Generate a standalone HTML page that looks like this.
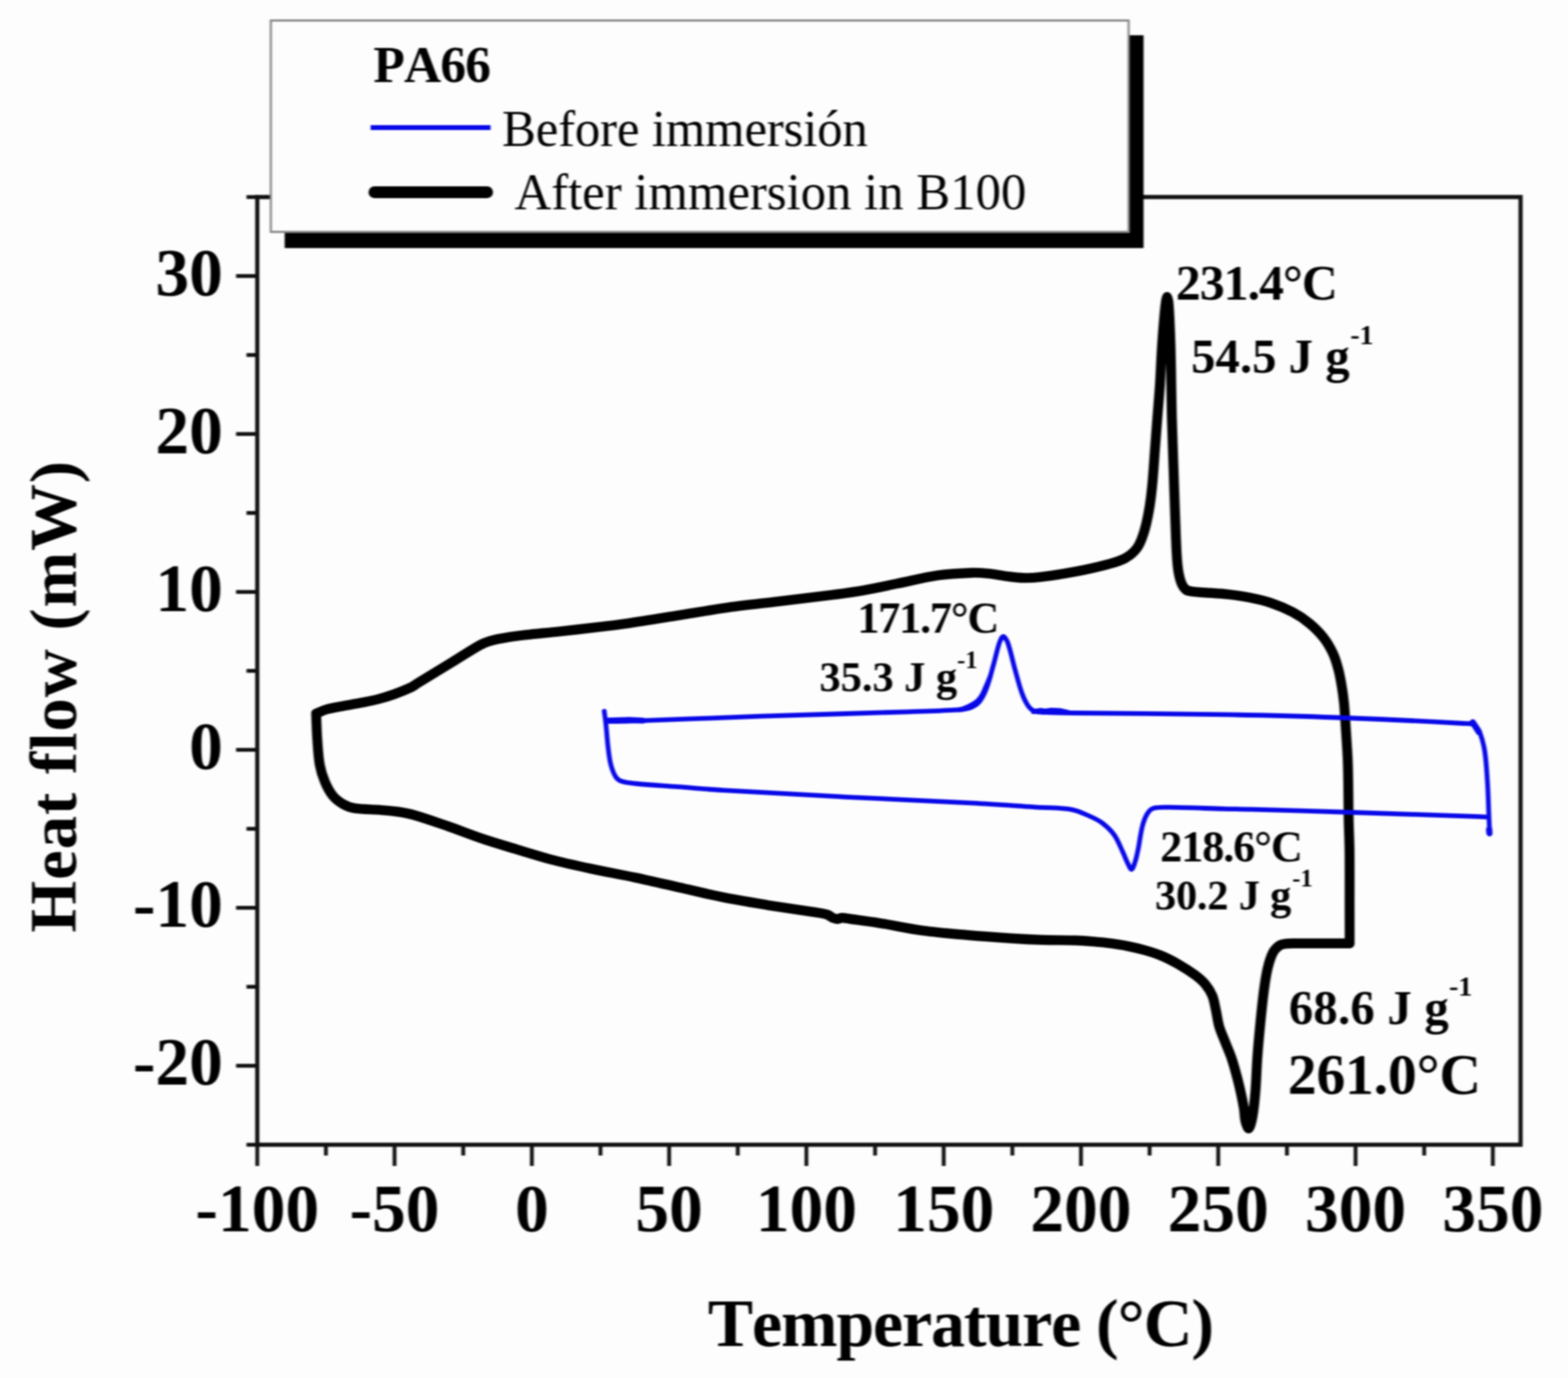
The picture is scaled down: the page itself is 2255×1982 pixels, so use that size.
<!DOCTYPE html>
<html lang="en">
<head>
<meta charset="utf-8">
<title>DSC thermogram of PA66 before and after immersion in B100</title>
<style>
html,body{margin:0;padding:0;background:#fdfdfd;}
body{width:2255px;height:1982px;overflow:hidden;}
svg{display:block;}
text{font-family:"Liberation Serif","DejaVu Serif",serif;fill:#000;font-kerning:none;font-variant-ligatures:none;}
.b{font-weight:bold;}
.tk{font-weight:bold;font-size:97px;}
.ax{stroke:#111;stroke-width:6;fill:none;stroke-linecap:butt;}
</style>
</head>
<body>
<svg width="2255" height="1982" viewBox="0 0 2255 1982" role="img" aria-label="DSC heat flow versus temperature for PA66 before and after immersion in B100">
<defs><filter id="soft" x="0" y="0" width="100%" height="100%" color-interpolation-filters="sRGB"><feGaussianBlur stdDeviation="1.4 1.1"/></filter></defs>
<g filter="url(#soft)">
<rect x="0" y="0" width="2255" height="1982" fill="#fdfdfd"/>
<!-- plot frame -->
<rect class="ax" x="370" y="283.4" width="1816.8000000000002" height="1363.1"/>
<!-- ticks -->
<g class="ax" stroke-width="5.5" style="stroke-width:5.5">
<line x1="370.0" y1="1646.5" x2="370.0" y2="1677.0"/>
<line x1="468.7" y1="1646.5" x2="468.7" y2="1662.0"/>
<line x1="567.4" y1="1646.5" x2="567.4" y2="1677.0"/>
<line x1="666.2" y1="1646.5" x2="666.2" y2="1662.0"/>
<line x1="764.9" y1="1646.5" x2="764.9" y2="1677.0"/>
<line x1="863.6" y1="1646.5" x2="863.6" y2="1662.0"/>
<line x1="962.3" y1="1646.5" x2="962.3" y2="1677.0"/>
<line x1="1061.0" y1="1646.5" x2="1061.0" y2="1662.0"/>
<line x1="1159.7" y1="1646.5" x2="1159.7" y2="1677.0"/>
<line x1="1258.5" y1="1646.5" x2="1258.5" y2="1662.0"/>
<line x1="1357.2" y1="1646.5" x2="1357.2" y2="1677.0"/>
<line x1="1455.9" y1="1646.5" x2="1455.9" y2="1662.0"/>
<line x1="1554.6" y1="1646.5" x2="1554.6" y2="1677.0"/>
<line x1="1653.3" y1="1646.5" x2="1653.3" y2="1662.0"/>
<line x1="1752.0" y1="1646.5" x2="1752.0" y2="1677.0"/>
<line x1="1850.8" y1="1646.5" x2="1850.8" y2="1662.0"/>
<line x1="1949.5" y1="1646.5" x2="1949.5" y2="1677.0"/>
<line x1="2048.2" y1="1646.5" x2="2048.2" y2="1662.0"/>
<line x1="2146.9" y1="1646.5" x2="2146.9" y2="1677.0"/>
<line x1="370" y1="1646.5" x2="354.5" y2="1646.5"/>
<line x1="370" y1="1532.9" x2="339.5" y2="1532.9"/>
<line x1="370" y1="1419.3" x2="354.5" y2="1419.3"/>
<line x1="370" y1="1305.7" x2="339.5" y2="1305.7"/>
<line x1="370" y1="1192.1" x2="354.5" y2="1192.1"/>
<line x1="370" y1="1078.5" x2="339.5" y2="1078.5"/>
<line x1="370" y1="964.9" x2="354.5" y2="964.9"/>
<line x1="370" y1="851.4" x2="339.5" y2="851.4"/>
<line x1="370" y1="737.8" x2="354.5" y2="737.8"/>
<line x1="370" y1="624.2" x2="339.5" y2="624.2"/>
<line x1="370" y1="510.6" x2="354.5" y2="510.6"/>
<line x1="370" y1="397.0" x2="339.5" y2="397.0"/>
<line x1="370" y1="283.4" x2="354.5" y2="283.4"/>
</g>
<!-- tick labels -->
<g class="tk" text-anchor="middle">
<text x="370.0" y="1771">-100</text>
<text x="567.4" y="1771">-50</text>
<text x="764.9" y="1771">0</text>
<text x="962.3" y="1771">50</text>
<text x="1159.7" y="1771">100</text>
<text x="1357.2" y="1771">150</text>
<text x="1554.6" y="1771">200</text>
<text x="1752.0" y="1771">250</text>
<text x="1949.5" y="1771">300</text>
<text x="2146.9" y="1771">350</text>
</g>
<g class="tk" text-anchor="end">
<text x="320.5" y="1560.4">-20</text>
<text x="320.5" y="1333.2">-10</text>
<text x="320.5" y="1106.0">0</text>
<text x="320.5" y="878.9">10</text>
<text x="320.5" y="651.7">20</text>
<text x="320.5" y="424.5">30</text>
</g>
<!-- axis titles -->
<text class="b" x="1018" y="1935.6" font-size="97.5" textLength="728" lengthAdjust="spacing">Temperature (°C)</text>
<text class="b" transform="translate(108.7 1341.5) rotate(-90)" font-size="96" textLength="678.5" lengthAdjust="spacing">Heat flow (mW)</text>
<!-- curves -->
<path d="M454.6 1026.3C459.4 1024.4 464.0 1021.9 469.0 1020.5C477.0 1018.3 485.3 1017.1 493.5 1015.5C501.7 1013.9 509.8 1012.6 518.0 1011.0C526.1 1009.4 534.4 1008.1 542.4 1006.0C550.7 1003.9 558.9 1001.4 566.9 998.5C575.2 995.5 583.4 992.2 591.4 988.5C594.5 987.1 597.1 984.8 600.0 983.0C616.6 972.8 633.3 962.7 650.0 952.5C663.3 944.3 676.4 935.7 690.0 928.0C694.1 925.7 698.5 923.9 703.0 922.5C708.5 920.7 714.3 919.6 720.0 918.5C728.9 916.8 738.0 915.3 747.0 914.2C766.3 911.9 785.7 910.3 805.0 908.2C824.7 906.1 844.3 903.8 864.0 901.5C876.0 900.1 888.0 898.8 900.0 897.0C924.4 893.4 948.7 889.4 973.0 885.5C997.7 881.6 1022.3 877.1 1047.0 873.7C1071.3 870.3 1095.7 867.9 1120.0 865.0C1146.7 861.8 1173.4 858.7 1200.0 855.2C1213.8 853.4 1227.7 851.6 1241.4 849.2C1257.8 846.3 1274.0 842.7 1290.3 839.4C1309.8 835.5 1329.2 830.4 1348.9 827.5C1365.0 825.2 1381.5 824.4 1397.8 823.8C1406.0 823.5 1414.2 824.2 1422.3 825.0C1430.5 825.8 1438.6 827.7 1446.8 828.7C1454.9 829.7 1463.1 831.0 1471.2 831.2C1479.4 831.4 1487.6 831.0 1495.7 830.0C1512.1 828.1 1528.4 825.6 1544.6 822.6C1561.0 819.5 1577.4 815.9 1593.5 811.6C1601.8 809.4 1610.6 807.1 1618.0 803.0C1624.4 799.4 1630.8 794.3 1635.1 788.4C1639.7 782.1 1642.5 773.9 1644.9 766.3C1648.2 756.0 1650.4 745.2 1652.3 734.5C1654.5 722.4 1655.9 710.1 1657.1 697.8C1658.7 681.5 1659.6 665.2 1660.8 648.9C1662.0 632.6 1663.3 616.3 1664.5 600.0C1665.7 585.0 1667.0 570.0 1668.0 555.0C1669.2 536.7 1669.8 518.3 1671.0 500.0C1671.8 486.7 1672.9 473.3 1674.0 460.0C1674.7 452.0 1675.4 444.0 1676.5 436.0C1676.9 433.0 1677.8 427.0 1678.5 427.0C1679.2 427.0 1680.2 433.0 1680.5 436.0C1681.3 444.0 1681.6 452.0 1682.0 460.0C1682.6 473.3 1683.1 486.7 1683.5 500.0C1684.0 518.3 1684.2 536.7 1684.5 555.0C1684.8 570.0 1684.9 585.0 1685.3 600.0C1686.0 624.5 1686.9 648.9 1687.7 673.4C1688.5 697.9 1689.3 722.3 1690.2 746.8C1690.9 764.2 1691.3 781.7 1692.4 799.1C1692.9 807.0 1693.5 814.9 1694.8 822.6C1695.8 828.4 1697.2 834.4 1699.5 839.8C1700.9 843.1 1703.2 846.6 1706.0 848.5C1708.7 850.3 1712.6 850.5 1716.0 851.0C1721.9 851.8 1727.9 852.0 1733.9 852.4C1744.3 853.2 1754.8 853.5 1765.2 854.7C1775.7 855.9 1786.2 857.3 1796.6 859.4C1807.1 861.5 1817.7 863.8 1827.9 867.2C1838.6 870.8 1849.2 875.2 1859.2 880.5C1867.5 884.9 1875.5 890.2 1882.7 896.2C1890.1 902.3 1897.1 909.1 1903.0 916.6C1908.6 923.7 1913.3 931.8 1917.1 940.0C1920.6 947.4 1922.8 955.5 1924.9 963.5C1926.9 971.2 1928.3 979.1 1929.6 987.0C1930.9 994.8 1932.0 1002.6 1932.8 1010.5C1933.9 1022.0 1934.6 1033.5 1935.3 1045.0C1936.4 1062.7 1937.8 1080.3 1938.4 1098.0C1939.3 1125.3 1939.1 1152.7 1939.6 1180.0C1939.9 1194.1 1940.6 1208.2 1940.8 1222.3C1941.1 1248.2 1940.9 1274.1 1940.9 1300.0C1940.9 1319.0 1941.0 1337.9 1941.0 1356.9L1941.0 1356.9C1927.3 1356.9 1913.7 1356.9 1900.0 1356.9C1887.3 1356.9 1874.7 1356.7 1862.0 1356.9C1857.3 1357.0 1852.6 1356.9 1848.0 1357.6C1845.1 1358.0 1841.8 1358.6 1839.5 1360.3C1836.0 1362.9 1832.5 1366.5 1830.5 1370.5C1827.0 1377.4 1824.8 1385.3 1823.0 1393.0C1820.7 1402.6 1819.3 1412.5 1818.0 1422.3C1815.8 1438.5 1814.2 1454.9 1812.6 1471.2C1811.0 1487.5 1809.5 1503.8 1808.3 1520.2C1807.1 1536.5 1806.8 1552.8 1805.5 1569.1C1804.5 1581.4 1803.4 1593.7 1801.3 1605.8C1800.3 1611.7 1798.1 1621.5 1796.0 1623.0C1794.7 1623.9 1792.1 1616.6 1791.2 1613.1C1789.7 1606.8 1789.9 1600.0 1788.8 1593.5C1787.4 1585.3 1785.7 1577.2 1783.9 1569.1C1782.1 1560.9 1780.0 1552.7 1777.8 1544.6C1775.6 1536.4 1773.3 1528.2 1770.5 1520.2C1767.6 1511.9 1763.9 1503.9 1760.7 1495.7C1758.2 1489.2 1755.2 1482.8 1753.3 1476.1C1751.1 1468.1 1750.2 1459.8 1748.4 1451.7C1746.9 1445.1 1746.0 1438.3 1743.5 1432.1C1741.2 1426.4 1737.7 1420.9 1733.8 1416.2C1729.6 1411.1 1724.4 1406.7 1719.1 1402.7C1711.3 1396.9 1703.0 1391.6 1694.6 1386.8C1686.7 1382.3 1678.6 1378.1 1670.2 1374.6C1662.3 1371.3 1654.0 1368.8 1645.7 1366.5C1637.6 1364.2 1629.4 1362.3 1621.2 1360.7C1613.1 1359.1 1605.0 1357.9 1596.8 1356.8C1588.7 1355.7 1580.5 1355.0 1572.3 1354.3C1564.1 1353.6 1556.0 1352.9 1547.8 1352.6C1531.5 1352.1 1515.2 1352.4 1498.9 1351.9C1484.0 1351.4 1469.1 1350.6 1454.2 1349.6C1433.0 1348.2 1411.8 1346.7 1390.6 1344.9C1369.4 1343.0 1348.1 1341.4 1327.0 1338.5C1305.7 1335.6 1284.6 1330.8 1263.4 1327.4C1249.6 1325.2 1235.8 1323.5 1222.0 1321.6C1218.3 1321.1 1214.6 1320.2 1211.0 1320.2C1208.6 1320.2 1206.3 1321.8 1204.0 1321.8C1202.0 1321.8 1199.9 1321.1 1198.0 1320.3C1195.2 1319.1 1192.9 1316.5 1190.0 1315.6C1182.9 1313.5 1175.4 1312.7 1168.0 1311.5C1146.8 1308.1 1125.6 1305.3 1104.4 1301.9C1083.2 1298.4 1061.9 1295.0 1040.8 1290.8C1019.5 1286.5 998.4 1281.3 977.2 1276.5C956.0 1271.7 934.9 1266.7 913.6 1262.2C892.5 1257.7 871.1 1254.0 850.0 1249.5C830.4 1245.3 810.8 1241.1 791.4 1236.0C775.0 1231.7 758.8 1226.4 742.5 1221.5C726.1 1216.5 709.7 1211.8 693.5 1206.3C677.1 1200.8 661.0 1194.2 644.6 1188.5C628.4 1182.9 612.2 1177.0 595.7 1172.3C587.7 1170.0 579.4 1168.6 571.2 1167.4C563.1 1166.2 554.9 1165.7 546.8 1165.0C534.5 1164.0 522.0 1164.4 510.0 1162.5C504.1 1161.6 498.1 1159.4 493.0 1156.4C487.6 1153.3 482.2 1149.1 478.3 1144.2C473.7 1138.5 470.2 1131.5 467.3 1124.6C464.0 1116.8 461.4 1108.5 459.9 1100.2C457.7 1088.2 457.2 1075.8 456.3 1063.5C455.4 1051.1 455.2 1038.7 454.6 1026.3Z" fill="none" stroke="#000" stroke-width="14.2" stroke-linejoin="round" stroke-linecap="round"/>
<path d="M869.0 1023.0C869.7 1028.7 870.6 1034.3 871.2 1040.0C872.5 1051.9 873.2 1063.8 874.6 1075.7C875.6 1083.8 876.4 1092.1 878.5 1100.0C880.1 1106.0 882.2 1112.3 885.5 1117.3C887.4 1120.2 890.7 1122.7 894.0 1123.8C900.1 1125.9 907.0 1126.4 913.6 1127.0C934.0 1129.0 954.5 1130.1 975.0 1131.7C996.7 1133.3 1018.3 1135.3 1040.0 1136.6C1098.6 1140.2 1157.3 1143.3 1216.0 1146.3C1277.3 1149.5 1338.7 1151.8 1400.0 1155.1C1429.4 1156.7 1458.7 1158.9 1488.0 1160.8C1505.6 1162.0 1523.6 1161.4 1540.9 1164.3C1550.1 1165.8 1558.7 1170.3 1567.3 1174.0C1573.4 1176.7 1579.7 1179.5 1584.9 1183.5C1591.4 1188.5 1597.8 1194.3 1602.5 1201.0C1607.8 1208.5 1611.0 1217.6 1615.0 1226.0C1617.3 1230.9 1619.1 1236.1 1621.5 1241.0C1623.2 1244.3 1625.5 1250.5 1627.3 1250.5C1629.0 1250.5 1630.9 1244.3 1632.0 1241.0C1634.0 1235.2 1635.2 1229.1 1636.5 1223.0C1638.9 1211.4 1640.1 1199.4 1643.0 1188.0C1644.6 1181.9 1646.7 1175.6 1650.0 1170.4C1652.0 1167.1 1655.3 1163.5 1658.9 1162.5C1665.9 1160.5 1674.2 1161.1 1681.8 1161.2C1707.9 1161.4 1733.9 1162.7 1760.0 1163.4C1773.3 1163.7 1786.7 1163.8 1800.0 1164.2C1848.6 1165.5 1897.1 1167.0 1945.7 1168.5C2006.8 1170.4 2067.9 1172.5 2129.0 1174.6C2131.8 1174.7 2134.7 1175.0 2137.5 1175.2" fill="none" stroke="#0808e8" stroke-width="6.8" stroke-linejoin="round" stroke-linecap="round"/>
<path d="M872.0 1037.5C881.3 1037.5 890.7 1037.7 900.0 1037.4C964.9 1035.3 1029.7 1032.4 1094.6 1030.2C1164.9 1027.8 1235.2 1026.1 1305.5 1023.8C1328.3 1023.1 1351.2 1022.6 1374.0 1021.2C1380.9 1020.8 1388.1 1020.4 1394.5 1018.2C1399.5 1016.5 1404.8 1013.5 1408.2 1009.5C1412.8 1004.2 1415.9 997.2 1418.5 990.5C1422.8 979.4 1425.5 967.5 1428.8 956.0C1431.8 945.5 1433.8 934.7 1437.3 924.5C1438.4 921.2 1440.9 915.5 1442.8 915.5C1444.9 915.5 1448.1 921.1 1449.3 924.5C1453.7 936.7 1456.0 949.9 1459.6 962.5C1462.9 974.2 1465.7 986.1 1469.9 997.5C1472.3 1004.1 1475.4 1010.9 1479.5 1016.5C1481.8 1019.5 1485.4 1022.3 1489.0 1023.3C1495.9 1025.1 1503.7 1024.5 1511.0 1024.8C1522.4 1025.2 1533.8 1025.4 1545.2 1025.5C1613.5 1026.3 1681.7 1026.4 1750.0 1027.6C1807.0 1028.6 1864.0 1029.9 1921.0 1032.0C1982.3 1034.2 2043.5 1037.0 2104.7 1040.5C2110.5 1040.8 2118.6 1039.6 2122.0 1043.5C2128.3 1050.6 2131.8 1063.1 2134.0 1073.5C2137.4 1089.4 2137.8 1106.1 2139.0 1122.5C2140.3 1140.1 2140.5 1157.8 2141.3 1175.5C2141.7 1183.5 2142.0 1191.5 2142.4 1199.5" fill="none" stroke="#0808e8" stroke-width="6.8" stroke-linejoin="round" stroke-linecap="round"/>
<path d="M2118 1039 L2127 1053" fill="none" stroke="#0808e8" stroke-width="9" stroke-linejoin="round" stroke-linecap="round"/>
<path d="M1380 1020.9 C1386 1019.4 1390 1017.6 1393 1016.2 C1399 1013.4 1403 1010.6 1406.5 1007.5 C1411 1003 1414.5 996 1417 989.5 C1419.5 984 1422 978 1424 973" fill="none" stroke="#0808e8" stroke-width="6.8" stroke-linejoin="round" stroke-linecap="round"/>
<path d="M1486 1023.6 L1496 1021.7 L1503 1022.7 L1512 1021.3 L1524 1021.9 L1537 1024.9" fill="none" stroke="#0808e8" stroke-width="6.8" stroke-linejoin="round" stroke-linecap="round"/>
<path d="M2141.6 1193 L2142 1198" fill="none" stroke="#0808e8" stroke-width="9" stroke-linejoin="round" stroke-linecap="round"/>
<path d="M873 1036.5 L905 1035.6 L925 1036.4" fill="none" stroke="#0808e8" stroke-width="8.5" stroke-linejoin="round" stroke-linecap="round"/>
<!-- annotations -->
<g class="b">
<text x="1691" y="430.5" font-size="71.5" textLength="233" lengthAdjust="spacing">231.4°C</text>
<text x="1713" y="535.5" font-size="70" textLength="228" lengthAdjust="spacing">54.5 J g</text><text x="1942" y="495" font-size="40">-1</text>
<text x="1233" y="909.5" font-size="63.5" textLength="204" lengthAdjust="spacing">171.7°C</text>
<text x="1178.5" y="994" font-size="61" textLength="198" lengthAdjust="spacing">35.3 J g</text><text x="1376.5" y="960.5" font-size="35">-1</text>
<text x="1668.5" y="1239" font-size="63.5" textLength="205" lengthAdjust="spacing">218.6°C</text>
<text x="1661" y="1307.5" font-size="61" textLength="196" lengthAdjust="spacing">30.2 J g</text><text x="1858.5" y="1275.0" font-size="35">-1</text>
<text x="1853.5" y="1472.5" font-size="70" textLength="230" lengthAdjust="spacing">68.6 J g</text><text x="2084" y="1432" font-size="40">-1</text>
<text x="1852" y="1573" font-size="83" textLength="278" lengthAdjust="spacing">261.0°C</text>
</g>
<!-- legend -->
<rect x="409.4" y="50.7" width="1235.2" height="306.1" fill="#000"/>
<rect x="389.5" y="29.5" width="1233.6" height="304" fill="#fdfdfd" stroke="#8a8a8a" stroke-width="3.2"/>
<text class="b" x="537" y="117.5" font-size="74" textLength="169" lengthAdjust="spacing">PA66</text>
<line x1="533" y1="183.5" x2="705.5" y2="183.5" stroke="#0808e8" stroke-width="6.8"/>
<text x="722" y="210" font-size="73" textLength="526" lengthAdjust="spacing">Before immersión</text>
<line x1="538.5" y1="276.5" x2="700.5" y2="276.5" stroke="#000" stroke-width="17" stroke-linecap="round"/>
<text x="740" y="301" font-size="73" textLength="736" lengthAdjust="spacing">After immersion in B100</text>
</g>
</svg>
</body>
</html>
